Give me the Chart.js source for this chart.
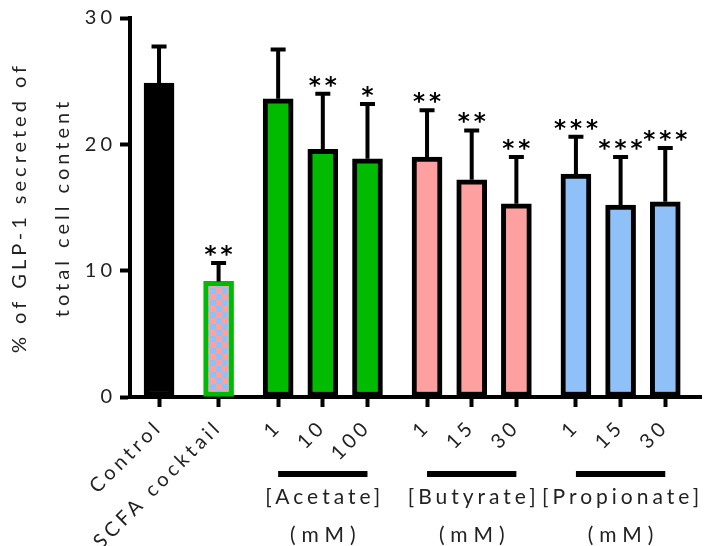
<!DOCTYPE html>
<html>
<head>
<meta charset="utf-8">
<script src="https://cdn.jsdelivr.net/npm/chart.js@4"></script>
<style>
  html, body { margin: 0; padding: 0; background: #fff; }
</style>
</head>
<body>
<canvas id="glpChart" width="720" height="546"></canvas>
<script>
// values
const categories = ['Control', 'SCFA cocktail', '1', '10', '100', '1', '15', '30', '1', '15', '30'];
const groupOf = ['control', 'scfa', 'acetate', 'acetate', 'acetate', 'butyrate', 'butyrate', 'butyrate', 'propionate', 'propionate', 'propionate'];
const meanValues = [24.85, 9.15, 23.6, 19.6, 18.85, 19.0, 17.2, 15.3, 17.65, 15.2, 15.45];
const sdValues = [2.9, 1.45, 3.9, 4.4, 4.35, 3.7, 3.9, 3.7, 2.95, 3.8, 4.25];
const significance = ['', '**', '', '**', '*', '**', '**', '**', '***', '***', '***'];
const bracketGroups = ['acetate', 'butyrate', 'propionate'];
const bracketLabels = ['[Acetate]', '[Butyrate]', '[Propionate]'];
const unitLabel = '(mM)';
const yTicks = [0, 10, 20, 30];

const TEXT = '#222';
const groupFill = {
    control: '#000000',
    acetate: '#00bb00',
    butyrate: '#ffa0a0',
    propionate: '#90c0f8'
};

// slot on the x axis: 3 per bar, one extra between groups
const slots = [];
let s = 0;
groupOf.forEach((g, i) => {
    if (i > 0) s += (g === groupOf[i - 1]) ? 3 : 4;
    slots.push(s);
});

function checkerPattern() {
    const c = document.createElement('canvas');
    c.width = 12; c.height = 12;
    const p = c.getContext('2d');
    p.fillStyle = '#ffa0a0';
    p.fillRect(0, 0, 6, 6); p.fillRect(6, 6, 6, 6);
    p.fillStyle = '#90c0f8';
    p.fillRect(6, 0, 6, 6); p.fillRect(0, 6, 6, 6);
    return document.getElementById('glpChart').getContext('2d').createPattern(c, 'repeat');
}

const pattern = checkerPattern();
const fills = groupOf.map(g => g === 'scfa' ? pattern : groupFill[g]);
const borders = groupOf.map(g => g === 'scfa' ? '#00bb00' : '#000000');

const annotate = {
    id: 'annotate',
    beforeUpdate(chart) { chart.ctx.letterSpacing = '4px'; },
    beforeDraw(chart) { chart.ctx.letterSpacing = '4px'; },
    afterDatasetsDraw(chart) {
        const { ctx, scales: { x, y }, chartArea } = chart;
        ctx.save();
        ctx.strokeStyle = '#000';
        ctx.lineWidth = 4;
        slots.forEach((v, i) => {
            const px = x.getPixelForValue(v);
            const top = y.getPixelForValue(meanValues[i]);
            const cap = y.getPixelForValue(meanValues[i] + sdValues[i]);
            ctx.beginPath();
            ctx.moveTo(px, top);
            ctx.lineTo(px, cap);
            ctx.moveTo(px - 7.5, cap);
            ctx.lineTo(px + 7.5, cap);
            ctx.stroke();
            if (significance[i]) {
                ctx.letterSpacing = '4px';
                ctx.font = 'bold 23px "DejaVu Sans"';
                ctx.fillStyle = '#000';
                ctx.textAlign = 'center';
                ctx.textBaseline = 'middle';
                ctx.fillText(significance[i], px + 2, cap - 7);
            }
        });

        // group brackets under the axis
        const b = chartArea.bottom;
        bracketGroups.forEach((g, k) => {
            const idx = groupOf.map((gg, i) => gg === g ? i : -1).filter(i => i >= 0);
            const x0 = x.getPixelForValue(slots[idx[0]]);
            const x1 = x.getPixelForValue(slots[idx[idx.length - 1]]);
            ctx.fillStyle = '#000';
            ctx.fillRect(x0, b + 74, x1 - x0, 6);
            const cx = (x0 + x1) / 2 + 2;
            ctx.letterSpacing = '4px';
            ctx.font = '21px Lato';
            ctx.fillStyle = TEXT;
            ctx.textAlign = 'center';
            ctx.textBaseline = 'alphabetic';
            ctx.fillText(bracketLabels[k], cx, b + 107);
            ctx.letterSpacing = '6px';
            ctx.fillText(unitLabel, cx + 1, b + 145);
        });
        ctx.restore();
    }
};

Chart.defaults.font.family = 'Lato';
Chart.defaults.color = TEXT;

new Chart(document.getElementById('glpChart'), {
    type: 'bar',
    data: {
        datasets: [{
            data: slots.map((v, i) => ({ x: v, y: meanValues[i] })),
            backgroundColor: fills,
            borderColor: borders,
            borderWidth: 5,
            borderSkipped: false,
            barThickness: 30
        }]
    },
    options: {
        responsive: false,
        animation: false,
        layout: { padding: { top: 18, right: 19, left: 0, bottom: 0 } },
        plugins: {
            legend: { display: false },
            tooltip: { enabled: false }
        },
        scales: {
            x: {
                type: 'linear',
                min: slots[0] - 1.95,
                max: slots[slots.length - 1] + 2.4,
                offset: false,
                grid: { offset: false, drawOnChartArea: false, tickLength: 10, tickWidth: 4, tickColor: '#000' },
                border: { color: '#000', width: 4 },
                afterBuildTicks: sc => { sc.ticks = slots.map(v => ({ value: v })); },
                afterFit: sc => { sc.height = 149; },
                ticks: {
                    minRotation: 45,
                    maxRotation: 45,
                    autoSkip: false,
                    padding: 8,
                    font: { size: 20 },
                    callback: (v, i) => categories[i]
                }
            },
            y: {
                min: 0,
                max: 30,
                afterBuildTicks: sc => { sc.ticks = yTicks.map(v => ({ value: v })); },
                afterFit: sc => { sc.width = 130; },
                grid: { drawOnChartArea: false, tickLength: 10, tickWidth: 4, tickColor: '#000' },
                border: { color: '#000', width: 4 },
                ticks: { padding: 4, font: { size: 20 } },
                title: {
                    display: true,
                    text: ['% of GLP-1 secreted of', 'total cell content'],
                    font: { size: 20, lineHeight: 2.15 },
                    padding: { top: -2, bottom: 0 }
                }
            }
        }
    },
    plugins: [annotate]
});
</script>
</body>
</html>
